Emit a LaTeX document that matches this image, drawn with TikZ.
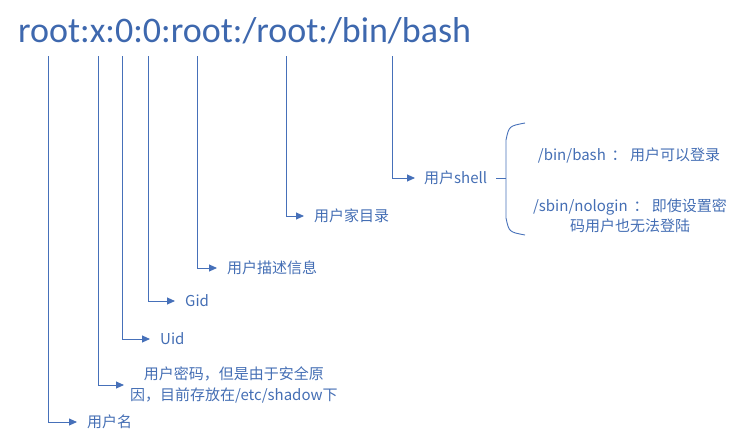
\documentclass[tikz,border=0pt]{standalone}
\usepackage{fontspec}
\setmainfont{Carlito}
\newfontfamily\cjk{Noto Sans CJK SC}
\usetikzlibrary{positioning, arrows.meta}
\definecolor{titleblue}{RGB}{62,104,174}
\definecolor{labelblue}{RGB}{68,110,180}
\definecolor{lineblue}{RGB}{70,112,185}

\begin{document}
\begin{tikzpicture}[
    x=1pt, y=-1pt,
    lbl/.style={anchor=west, inner xsep=10pt, inner ysep=1pt, text=labelblue,
        font=\cjk\fontsize{15}{21}\selectfont},
    note/.style={inner sep=1pt, text=labelblue, align=center,
        font=\cjk\fontsize{15}{20}\selectfont},
    link/.style={draw=lineblue, line width=0.9pt, -{Triangle[length=8pt, width=7pt]}}
]
\useasboundingbox (0,0) rectangle (733,440);

\node[anchor=base west, inner sep=0pt, text=titleblue, font=\fontsize{36}{40}\selectfont]
    (title) at (18,42) {root:x:0:0:root:/root:/bin/bash};

% start points under each field
\coordinate (user) at (48,56);
\coordinate (pwd) at (98,56);
\coordinate (uid) at (122,56);
\coordinate (gid) at (148,56);
\coordinate (desc) at (197,56);
\coordinate (home) at (286,56);
\coordinate (shell) at (392,56);

\node[lbl] (username) at (77,422) {用户名};
\node[lbl, align=center, inner xsep=6pt] (password) at (124,385) {用户密码，但是由于安全原\\因，目前存放在/etc/shadow下};
\node[lbl] (uidtxt) at (150,339) {Uid};
\node[lbl] (gidtxt) at (175,301) {Gid};
\node[lbl] (desctxt) at (217,268) {用户描述信息};
\node[lbl] (hometxt) at (304,216) {用户家目录};
\node[lbl, inner xsep=9pt] (shelltxt) at (415,178) {用户shell};

\draw[link] (user) |- (username.west);
\draw[link] (pwd) |- (password.west);
\draw[link] (uid) |- (uidtxt.west);
\draw[link] (gid) |- (gidtxt.west);
\draw[link] (desc) |- (desctxt.west);
\draw[link] (home) |- (hometxt.west);
\draw[link] (shell) |- (shelltxt.west);

% brace for the shell choices
\coordinate (brace) at (506,178);
\draw[lineblue, line width=0.9pt] (shelltxt.east) -- (brace);
\draw[lineblue, line width=0.9pt] (525,123) .. controls (509,126) .. (506,140)
    -- (506,218) .. controls (509,232) .. (525,235);

\node[note] (bash) at (629,155) {/bin/bash \,： 用户可以登录};
\node[note] (nologin) at (630,216) {/sbin/nologin \,： 即使设置密\\码用户也无法登陆};

\end{tikzpicture}
\end{document}
